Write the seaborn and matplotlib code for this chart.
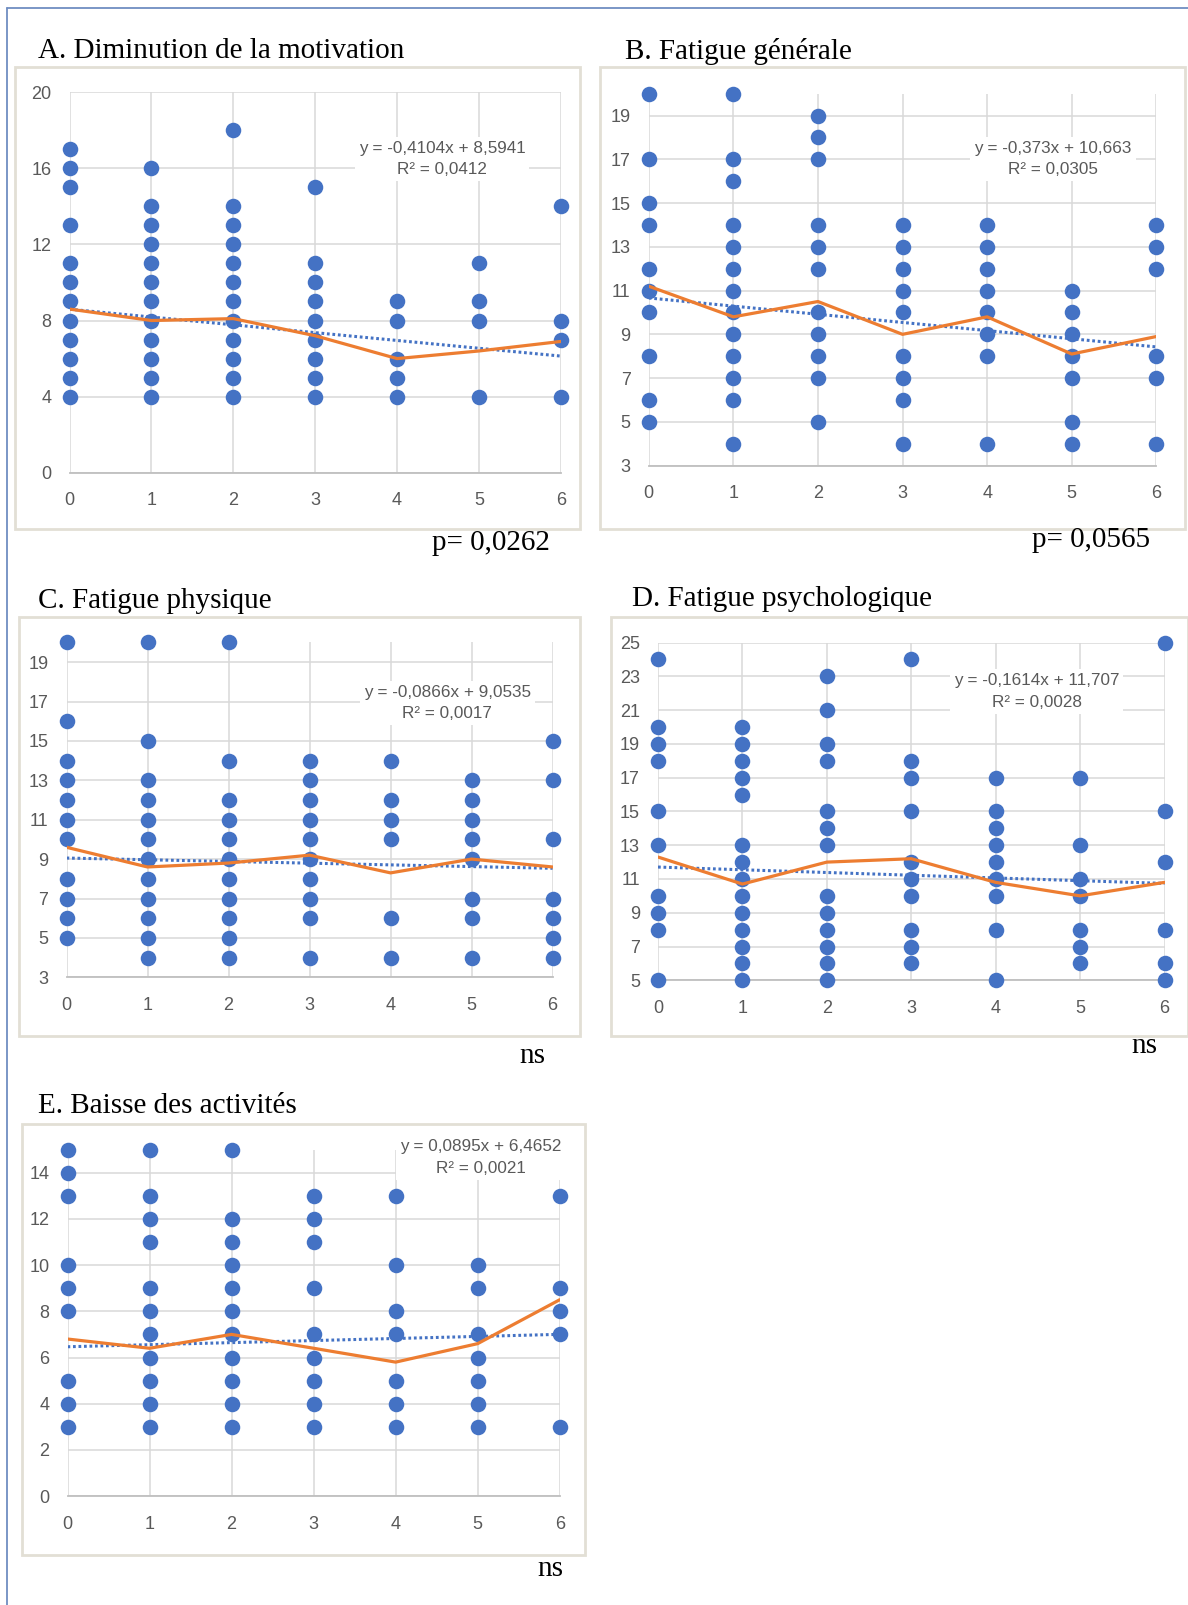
import matplotlib
matplotlib.use("Agg")
import matplotlib.pyplot as plt
import seaborn as sns
import pandas as pd
from matplotlib.patches import Rectangle
from matplotlib.lines import Line2D

# ---------------- data ----------------
x_levels = [0, 1, 2, 3, 4, 5, 6]
x_ticks = [0, 1, 2, 3, 4, 5, 6]

a_title = "A. Diminution de la motivation"
a_points = [
    [17, 16, 15, 13, 11, 10, 9, 8, 7, 6, 5, 4],
    [16, 14, 13, 12, 11, 10, 9, 8, 7, 6, 5, 4],
    [18, 14, 13, 12, 11, 10, 9, 8, 7, 6, 5, 4],
    [15, 11, 10, 9, 8, 7, 6, 5, 4],
    [9, 8, 6, 5, 4],
    [11, 9, 8, 4],
    [14, 8, 7, 4],
]
a_means = [8.6, 8.0, 8.1, 7.2, 6.0, 6.4, 6.9]
a_slope, a_intercept = -0.4104, 8.5941
a_eq = "y = -0,4104x + 8,5941"
a_r2 = "R² = 0,0412"
a_yticks = [0, 4, 8, 12, 16, 20]
a_ylim = (0, 20)
a_note = "p= 0,0262"

b_title = "B. Fatigue générale"
b_points = [
    [20, 17, 15, 14, 12, 11, 10, 8, 6, 5],
    [20, 17, 16, 14, 13, 12, 11, 10, 9, 8, 7, 6, 4],
    [19, 18, 17, 14, 13, 12, 10, 9, 8, 7, 5],
    [14, 13, 12, 11, 10, 8, 7, 6, 4],
    [14, 13, 12, 11, 10, 9, 8, 4],
    [11, 10, 9, 8, 7, 5, 4],
    [14, 13, 12, 8, 7, 4],
]
b_means = [11.2, 9.8, 10.5, 9.0, 9.8, 8.1, 8.9]
b_slope, b_intercept = -0.373, 10.663
b_eq = "y = -0,373x + 10,663"
b_r2 = "R² = 0,0305"
b_yticks = [3, 5, 7, 9, 11, 13, 15, 17, 19]
b_ylim = (3, 20)
b_note = "p= 0,0565"

c_title = "C. Fatigue physique"
c_points = [
    [20, 16, 14, 13, 12, 11, 10, 8, 7, 6, 5],
    [20, 15, 13, 12, 11, 10, 9, 8, 7, 6, 5, 4],
    [20, 14, 12, 11, 10, 9, 8, 7, 6, 5, 4],
    [14, 13, 12, 11, 10, 9, 8, 7, 6, 4],
    [14, 12, 11, 10, 6, 4],
    [13, 12, 11, 10, 9, 7, 6, 4],
    [15, 13, 10, 7, 6, 5, 4],
]
c_means = [9.6, 8.6, 8.8, 9.2, 8.3, 9.0, 8.6]
c_slope, c_intercept = -0.0866, 9.0535
c_eq = "y = -0,0866x + 9,0535"
c_r2 = "R² = 0,0017"
c_yticks = [3, 5, 7, 9, 11, 13, 15, 17, 19]
c_ylim = (3, 20)
c_note = "ns"

d_title = "D. Fatigue psychologique"
d_points = [
    [24, 20, 19, 18, 15, 13, 10, 9, 8, 5],
    [20, 19, 18, 17, 16, 13, 12, 11, 10, 9, 8, 7, 6, 5],
    [23, 21, 19, 18, 15, 14, 13, 10, 9, 8, 7, 6, 5],
    [24, 18, 17, 15, 12, 11, 10, 8, 7, 6],
    [17, 15, 14, 13, 12, 11, 10, 8, 5],
    [17, 13, 11, 10, 8, 7, 6],
    [25, 15, 12, 8, 6, 5],
]
d_means = [12.3, 10.7, 12.0, 12.2, 10.8, 10.0, 10.8]
d_slope, d_intercept = -0.1614, 11.707
d_eq = "y = -0,1614x + 11,707"
d_r2 = "R² = 0,0028"
d_yticks = [5, 7, 9, 11, 13, 15, 17, 19, 21, 23, 25]
d_ylim = (5, 25)
d_note = "ns"

e_title = "E. Baisse des activités"
e_points = [
    [15, 14, 13, 10, 9, 8, 5, 4, 3],
    [15, 13, 12, 11, 9, 8, 7, 6, 5, 4, 3],
    [15, 12, 11, 10, 9, 8, 7, 6, 5, 4, 3],
    [13, 12, 11, 9, 7, 6, 5, 4, 3],
    [13, 10, 8, 7, 5, 4, 3],
    [10, 9, 7, 6, 5, 4, 3],
    [13, 9, 8, 7, 3],
]
e_means = [6.8, 6.4, 7.0, 6.4, 5.8, 6.6, 8.5]
e_slope, e_intercept = 0.0895, 6.4652
e_eq = "y = 0,0895x + 6,4652"
e_r2 = "R² = 0,0021"
e_yticks = [0, 2, 4, 6, 8, 10, 12, 14]
e_ylim = (0, 15)
e_note = "ns"

# ---------------- layout (pixels) ----------------
W, H = 1188, 1605
panels = [
    dict(title=a_title, pts=a_points, means=a_means, slope=a_slope, icpt=a_intercept,
         eq=a_eq, r2=a_r2, yticks=a_yticks, ylim=a_ylim, note=a_note,
         plot=(69.6, 560.8, 92.1, 472.8), frame=(15.3, 580.2, 67.5, 529),
         tpos=(37.9, 51.2), npos=(491.2, 543.4), epos=(442, 159)),
    dict(title=b_title, pts=b_points, means=b_means, slope=b_slope, icpt=b_intercept,
         eq=b_eq, r2=b_r2, yticks=b_yticks, ylim=b_ylim, note=b_note,
         plot=(648.8, 1156.3, 93.7, 465.6), frame=(599.7, 1185, 67.5, 529),
         tpos=(625.2, 51.2), npos=(1091.4, 540.3), epos=(1053, 159)),
    dict(title=c_title, pts=c_points, means=c_means, slope=c_slope, icpt=c_intercept,
         eq=c_eq, r2=c_r2, yticks=c_yticks, ylim=c_ylim, note=c_note,
         plot=(66.5, 552.6, 642.4, 977.3), frame=(19.4, 580.2, 617, 1035.6),
         tpos=(37.9, 600.7), npos=(532.1, 1056), epos=(447.2, 703)),
    dict(title=d_title, pts=d_points, means=d_means, slope=d_slope, icpt=d_intercept,
         eq=d_eq, r2=d_r2, yticks=d_yticks, ylim=d_ylim, note=d_note,
         plot=(658.0, 1164.5, 642.6, 980.3), frame=(611, 1188, 617, 1035.6),
         tpos=(632.4, 598.6), npos=(1144, 1045.8), epos=(1036.6, 691.8)),
    dict(title=e_title, pts=e_points, means=e_means, slope=e_slope, icpt=e_intercept,
         eq=e_eq, r2=e_r2, yticks=e_yticks, ylim=e_ylim, note=e_note,
         plot=(67.5, 559.7, 1149.6, 1496.1), frame=(21.5, 585.3, 1123.6, 1555.4),
         tpos=(37.9, 1106.2), npos=(550.5, 1568.7), epos=(481, 1157.8)),
]

sns.set_theme(style="white")
plt.rcParams['font.family'] = ['Liberation Sans', 'DejaVu Sans']

BLUE = '#4472C4'
ORANGE = '#ED7D31'
GRID = '#D9D9D9'
TICK = '#595959'
SERIF = ['Liberation Serif', 'DejaVu Serif']

fig = plt.figure(figsize=(W / 100, H / 100), dpi=100)
fig.patch.set_facecolor('white')

def fx(px):
    return px / W

def fy(py):
    return 1 - py / H

# outer border (left and top)
fig.add_artist(Line2D([fx(7.2), fx(7.2)], [fy(8.2), fy(H)], color='#6F8DC2', lw=1.3))
fig.add_artist(Line2D([fx(7.2), fx(W)], [fy(8.2), fy(8.2)], color='#6F8DC2', lw=1.3))

for p in panels:
    fl, fr, ft, fb = p['frame']
    fig.add_artist(Rectangle((fx(fl), fy(fb)), fx(fr) - fx(fl), fy(ft) - fy(fb),
                             transform=fig.transFigure, facecolor='white',
                             edgecolor='#E2DFD5', lw=2.0, zorder=0))
    x0, x6, yt, yb = p['plot']
    ax = fig.add_axes([fx(x0), fy(yb), fx(x6) - fx(x0), fy(yt) - fy(yb)])
    ax.set_facecolor('none')
    ax.set_zorder(1)

    rows = []
    for xv, ys in zip(x_levels, p['pts']):
        for yv in ys:
            rows.append((xv, yv))
    df = pd.DataFrame(rows, columns=['x', 'y'])

    trend_x = [x_levels[0], x_levels[-1]]
    trend_y = [p['icpt'] + p['slope'] * xv for xv in trend_x]

    sns.scatterplot(data=df, x='x', y='y', ax=ax, color=BLUE, s=125,
                    edgecolor=BLUE, linewidth=0, clip_on=False, zorder=3, legend=False)
    sns.lineplot(x=trend_x, y=trend_y, ax=ax, color=BLUE, lw=2.2,
                 linestyle=(0, (0.9, 0.9)), zorder=4, legend=False)
    sns.lineplot(x=x_levels, y=p['means'], ax=ax, color=ORANGE, lw=2.3,
                 zorder=5, legend=False)

    ax.set_xlim(0, 6)
    ax.set_ylim(*p['ylim'])
    ax.set_xticks(x_ticks)
    ax.set_yticks(p['yticks'])
    ax.set_xlabel('')
    ax.set_ylabel('')
    ax.set_axisbelow(True)
    ax.grid(True, color=GRID, lw=1.1)
    for s in ['top', 'right', 'left']:
        ax.spines[s].set_visible(False)
    ax.spines['bottom'].set_color('#BFBFBF')
    ax.spines['bottom'].set_linewidth(1.3)
    ax.tick_params(axis='both', length=0, colors=TICK, labelsize=13)
    ax.tick_params(axis='y', pad=13)
    ax.tick_params(axis='x', pad=14)

    ex, ey = p['epos']
    fig.text(fx(ex), fy(ey), p['eq'] + "\n" + p['r2'], ha='center', va='center',
             fontsize=12.3, color=TICK, linespacing=1.55, zorder=6,
             bbox=dict(facecolor='white', edgecolor='none', pad=3))

    tx, ty = p['tpos']
    fig.text(fx(tx), fy(ty), p['title'], ha='left', va='center',
             fontsize=21, family=SERIF, color='black')
    nx, ny = p['npos']
    fig.text(fx(nx), fy(ny), p['note'], ha='center', va='center',
             fontsize=21, family=SERIF, color='black')

fig.savefig('out.png', dpi=100, facecolor='white')
